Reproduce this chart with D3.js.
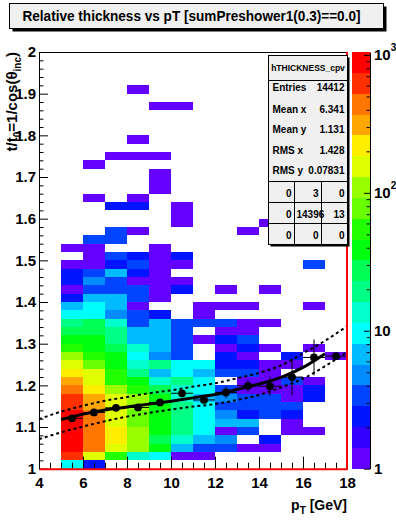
<!DOCTYPE html>
<html>
<head>
<meta charset="utf-8">
<script src="https://cdn.jsdelivr.net/npm/d3@7/dist/d3.min.js"></script>
<style>
  body { margin: 0; background: #fff; }
  svg text { font-family: "Liberation Sans", Arial, Helvetica, sans-serif; font-weight: bold; fill: #000; }
</style>
</head>
<body>
<svg id="chart" width="396" height="522"></svg>
<script>
const title = "Relative thickness vs pT [sumPreshower1(0.3)==0.0]";

// x bins (GeV), lower edges, width 1
const xBinLow = [4, 5, 6, 7, 8, 9, 10, 11, 12, 13, 14, 15, 16, 17];
const xBinWidth = 1;
// y bins: 50 bins of 0.02 starting at 1.00
const yBinMin = 1, yBinWidth = 0.02;

// entries per cell, counts[row][xbin], row 0 = 1.00-1.02
const counts = [
  [0,  10,   2,   0,   0,  0,  0,  0, 0, 0, 0, 0, 0, 0],
  [0, 620, 150,  55,  14, 10,  1,  1, 0, 0, 0, 0, 0, 0],
  [0, 830, 430, 165, 110, 40,  7,  3, 3, 1, 1, 0, 0, 0],
  [0, 900, 470, 215, 105, 29, 14,  7, 5, 0, 2, 0, 0, 0],
  [0, 920, 480, 230, 100, 36, 19, 10, 1, 3, 0, 1, 1, 0],
  [0, 880, 450, 175,  85, 38, 20, 11, 7, 6, 0, 1, 0, 0],
  [0, 800, 420, 170,  80, 40, 21, 10, 5, 2, 3, 2, 0, 0],
  [0, 700, 340, 160, 100, 35, 18,  9, 3, 3, 3, 3, 0, 0],
  [0, 580, 300, 150,  95, 34, 15,  7, 5, 4, 3, 1, 2, 0],
  [0, 450, 230, 110,  50, 26, 13,  9, 4, 1, 1, 1, 2, 0],
  [0, 320, 180,  58,  40, 12, 17, 10, 0, 1, 1, 3, 1, 0],
  [0, 240, 160,  52,  20,  7,  9,  6, 3, 3, 1, 0, 0, 0],
  [0, 140,  80,  37,  15, 18, 11,  9, 2, 2, 1, 1, 0, 0],
  [0, 100,  56,  34,  10,  5,  3,  0, 2, 1, 0, 2, 0, 1],
  [0,  60,  42,  28,  13,  7,  3,  0, 1, 2, 1, 0, 1, 0],
  [0,  44,  38,  21,   8,  6,  3,  1, 2, 3, 0, 0, 0, 0],
  [0,  31,  25,  18,   7,  6,  3,  0, 1, 1, 0, 0, 0, 0],
  [0,  20,  24,  15,   3,  7,  3,  3, 3, 1, 1, 0, 0, 0],
  [0,  11,   9,   5,   3,  2,  0,  1, 0, 0, 0, 0, 0, 0],
  [0,   7,  10,   6,   1,  0,  0,  1, 1, 1, 0, 0, 1, 0],
  [0,   2,   8,   7,   4,  1,  0,  0, 0, 0, 0, 0, 0, 0],
  [0,   1,   3,   3,   3,  1,  2,  0, 1, 0, 1, 0, 0, 0],
  [0,   2,   5,   4,   1,  1,  1,  0, 0, 0, 0, 0, 0, 0],
  [0,   2,   3,   6,   2,  1,  0,  0, 0, 0, 0, 0, 0, 0],
  [0,   1,   1,   2,   3,  1,  1,  0, 0, 0, 0, 0, 3, 0],
  [0,   0,   1,   3,   2,  1,  2,  0, 0, 0, 0, 0, 0, 0],
  [0,   1,   1,   0,   0,  1,  0,  0, 0, 0, 0, 0, 0, 0],
  [0,   0,   3,   3,   0,  0,  0,  0, 0, 0, 0, 0, 0, 0],
  [0,   0,   0,   3,   1,  0,  0,  0, 0, 1, 0, 0, 0, 0],
  [0,   0,   0,   0,   0,  0,  1,  0, 0, 0, 1, 0, 0, 0],
  [0,   0,   0,   0,   0,  0,  1,  0, 0, 0, 0, 0, 0, 0],
  [0,   0,   0,   2,   2,  0,  1,  0, 0, 0, 0, 0, 0, 0],
  [0,   0,   1,   0,   1,  0,  0,  0, 0, 0, 0, 0, 0, 0],
  [0,   0,   0,   0,   0,  1,  0,  0, 0, 0, 0, 0, 0, 0],
  [0,   0,   0,   0,   0,  1,  0,  0, 0, 0, 0, 0, 0, 0],
  [0,   0,   0,   0,   0,  1,  0,  0, 0, 0, 0, 0, 0, 0],
  [0,   0,   1,   0,   0,  0,  0,  0, 0, 0, 0, 0, 0, 0],
  [0,   0,   0,   1,   1,  1,  0,  0, 0, 0, 0, 0, 0, 0],
  [0,   0,   0,   0,   0,  0,  0,  0, 0, 0, 0, 0, 0, 0],
  [0,   0,   0,   0,   1,  0,  0,  0, 0, 0, 0, 0, 0, 0],
  [0,   0,   0,   0,   0,  0,  0,  0, 0, 0, 0, 0, 0, 0],
  [0,   0,   0,   0,   0,  0,  0,  0, 0, 0, 0, 0, 0, 0],
  [0,   0,   0,   0,   0,  0,  0,  0, 0, 0, 0, 0, 0, 0],
  [0,   0,   0,   0,   0,  1,  1,  0, 0, 0, 0, 0, 0, 0],
  [0,   0,   0,   0,   0,  0,  0,  0, 0, 0, 0, 0, 0, 0],
  [0,   0,   0,   0,   1,  0,  0,  0, 0, 0, 0, 0, 0, 0],
  [0,   0,   0,   0,   0,  0,  0,  0, 0, 0, 0, 0, 0, 0],
  [0,   0,   0,   0,   0,  0,  0,  0, 0, 0, 0, 0, 0, 0],
  [0,   0,   0,   0,   0,  0,  0,  0, 0, 0, 0, 0, 0, 0],
  [0,   0,   0,   0,   0,  0,  0,  0, 0, 0, 0, 0, 0, 0]
];

// profile points (mean y per pT bin)
const profX   = [5.5, 6.5, 7.5, 8.5, 9.5, 10.5, 11.5, 12.5, 13.5, 14.5, 15.5, 16.5, 17.5];
const profY   = [1.121, 1.135, 1.146, 1.147, 1.159, 1.181, 1.165, 1.183, 1.199, 1.198, 1.220, 1.267, 1.270];
const profErr = [0.002, 0.003, 0.003, 0.004, 0.005, 0.007, 0.007, 0.014, 0.014, 0.023, 0.044, 0.043, 0];

// fit curve and its band
const fitX = [5, 6, 7, 8, 9, 10, 11, 12, 13, 14, 15, 16, 17];
const fitY = [1.118, 1.131, 1.141, 1.148, 1.155, 1.162, 1.170, 1.178, 1.190, 1.203, 1.219, 1.243, 1.276];
const bandX = [4, 5, 6, 7, 8, 9, 10, 11, 12, 13, 14, 15, 16, 17, 18];
const bandUp = [1.119, 1.137, 1.151, 1.163, 1.172, 1.181, 1.188, 1.197, 1.205, 1.217, 1.230, 1.248, 1.277, 1.307, 1.342];
const bandLo = [1.071, 1.087, 1.101, 1.114, 1.125, 1.134, 1.142, 1.149, 1.155, 1.165, 1.177, 1.195, 1.216, 1.246, 1.280];

// stats box
const statName = "hTHICKNESS_cpv";
const statLabels = ["Entries", "Mean x", "Mean y", "RMS x", "RMS y"];
const statValues = ["14412", "6.341", "1.131", "1.428", "0.07831"];
const overflow = [["0", "3", "0"], ["0", "14396", "13"], ["0", "0", "0"]];

const xTicks = [4, 6, 8, 10, 12, 14, 16, 18];
const yTicks = [1, 1.1, 1.2, 1.3, 1.4, 1.5, 1.6, 1.7, 1.8, 1.9, 2];
const zTicks = [1, 10, 100, 1000];

const zMin = 1, zMax = 1050, nLevels = 20, nColors = 50;

const svg = d3.select("#chart");
const pLeft = 39, pRight = 347, pTop = 52, pBottom = 468.7;

const x = d3.scaleLinear().domain([4, 18]).range([pLeft, pRight]);
const y = d3.scaleLinear().domain([1, 2]).range([pBottom, pTop]);
const z = d3.scaleLog().domain([zMin, zMax]).range([pBottom, pTop]);
const lev = d3.scaleLinear().domain([Math.log10(zMin), Math.log10(zMax)]).range([0, nLevels]);

// ROOT "pretty" palette: 50 hues from violet to red, 20 contour levels
function levelColor(j) {
  const idx = Math.floor((j + 0.99) * nColors / nLevels);
  const hue = 280 - (idx + 1) * (280 / nColors);
  return d3.hsl(hue, 1, 0.5).formatHex();
}
function cellColor(v) {
  const j = Math.min(nLevels - 1, Math.floor(0.01 + lev(Math.log10(v))));
  return levelColor(j);
}

// cells
const cells = [];
counts.forEach((row, r) => row.forEach((v, k) => {
  if (v > 0) cells.push({ x0: xBinLow[k], y0: yBinMin + r * yBinWidth, v });
}));

svg.append("g")
  .attr("shape-rendering", "crispEdges")
  .selectAll("rect")
  .data(cells)
  .join("rect")
  .attr("x", d => x(d.x0))
  .attr("y", d => y(d.y0 + yBinWidth))
  .attr("width", d => x(d.x0 + xBinWidth) - x(d.x0))
  .attr("height", d => y(d.y0) - y(d.y0 + yBinWidth))
  .attr("fill", d => cellColor(d.v));

// fit band (dotted) and fit (solid)
const line = d3.line().x(d => x(d[0])).y(d => y(d[1])).curve(d3.curveMonotoneX);
[bandUp, bandLo].forEach(b => {
  svg.append("path")
    .datum(bandX.map((v, i) => [v, b[i]]))
    .attr("fill", "none")
    .attr("stroke", "#000")
    .attr("stroke-width", 2)
    .attr("stroke-dasharray", "3,3")
    .attr("d", line);
});
svg.append("path")
  .datum(fitX.map((v, i) => [v, fitY[i]]))
  .attr("fill", "none")
  .attr("stroke", "#000")
  .attr("stroke-width", 3)
  .attr("d", line);

// profile points with errors
const prof = profX.map((v, i) => ({ x: v, y: profY[i], e: profErr[i] }));
const pg = svg.append("g").attr("stroke", "#000").attr("stroke-width", 1);
pg.selectAll(".ex").data(prof).join("line")
  .attr("x1", d => x(d.x - 0.5)).attr("x2", d => x(d.x + 0.5))
  .attr("y1", d => y(d.y)).attr("y2", d => y(d.y));
pg.selectAll(".ey").data(prof.filter(d => d.e > 0)).join("line")
  .attr("x1", d => x(d.x)).attr("x2", d => x(d.x))
  .attr("y1", d => y(d.y - d.e)).attr("y2", d => y(d.y + d.e));
svg.append("g").selectAll("circle").data(prof).join("circle")
  .attr("cx", d => x(d.x)).attr("cy", d => y(d.y)).attr("r", 3.9)
  .attr("fill", "#000");

// axes
function styleAxis(g) {
  g.attr("font-size", 15)
   .attr("font-family", '"Liberation Sans", Arial, Helvetica, sans-serif')
   .attr("font-weight", "bold");
}

const yMinor = d3.range(0, 51).map(i => 1 + i * 0.02).filter((v, i) => i % 5 !== 0);
svg.append("g")
  .attr("transform", `translate(${pLeft},0)`)
  .call(d3.axisLeft(y).tickValues(yMinor).tickSizeInner(-4.5).tickSizeOuter(0).tickFormat(""))
  .call(g => g.select(".domain").remove());
svg.append("g")
  .attr("transform", `translate(${pLeft},0)`)
  .call(d3.axisLeft(y).tickValues(yTicks).tickSizeInner(-9).tickSizeOuter(0).tickPadding(3)
    .tickFormat(d => String(+d.toFixed(1))))
  .call(styleAxis);

// top frame
svg.append("line").attr("x1", pLeft).attr("x2", pRight).attr("y1", pTop + 0.5).attr("y2", pTop + 0.5)
  .attr("stroke", "#000");

const xMinor = d3.range(0, 29).map(i => 4 + i * 0.5).filter((v, i) => i % 4 !== 0);
svg.append("g")
  .attr("transform", `translate(0,${pBottom})`)
  .call(d3.axisBottom(x).tickValues(xMinor).tickSizeInner(-6).tickSizeOuter(0).tickFormat(""))
  .call(g => g.select(".domain").remove());
svg.append("g")
  .attr("transform", `translate(0,${pBottom})`)
  .call(d3.axisBottom(x).tickValues(xTicks).tickSizeInner(-12).tickSizeOuter(0).tickPadding(9))
  .call(styleAxis)
  .call(g => g.select(".domain").attr("stroke", "#f00").attr("stroke-width", 2));

// right frame edge (red)
svg.append("line").attr("x1", pRight).attr("x2", pRight).attr("y1", pTop).attr("y2", pBottom + 1)
  .attr("stroke", "#f00").attr("stroke-width", 2);

// axis titles
const yt = svg.append("text")
  .attr("transform", `translate(17,${pTop}) rotate(-90)`)
  .attr("text-anchor", "end")
  .attr("font-size", 15);
yt.append("tspan").text("t/t");
yt.append("tspan").attr("font-size", 10).attr("dy", 4).text("0");
yt.append("tspan").attr("dy", -4).text("=1/cos(\u03b8");
yt.append("tspan").attr("font-size", 10).attr("dy", 4).text("inc");
yt.append("tspan").attr("dy", -4).text(")");

const xt = svg.append("text")
  .attr("x", pRight).attr("y", 510)
  .attr("text-anchor", "end")
  .attr("font-size", 14);
xt.append("tspan").text("p");
xt.append("tspan").attr("font-size", 10).attr("dy", 4).text("T");
xt.append("tspan").attr("dy", -4).text(" [GeV]");

// colour bar
const barX0 = 352, barX1 = 370;
const dz = Math.log10(zMax / zMin) / nLevels;
svg.append("g").attr("shape-rendering", "crispEdges")
  .selectAll("rect")
  .data(d3.range(nLevels))
  .join("rect")
  .attr("x", barX0)
  .attr("width", barX1 - barX0)
  .attr("y", j => z(zMin * Math.pow(10, (j + 1) * dz)))
  .attr("height", j => z(zMin * Math.pow(10, j * dz)) - z(zMin * Math.pow(10, (j + 1) * dz)))
  .attr("fill", j => levelColor(j));

const zMinor = [];
[1, 10, 100].forEach(d => [2, 3, 4, 5, 6, 7, 8, 9].forEach(m => { if (d * m < zMax) zMinor.push(d * m); }));
svg.append("g")
  .attr("transform", `translate(${barX1},0)`)
  .call(d3.axisRight(z).tickValues(zMinor).tickSizeInner(-3.5).tickSizeOuter(0).tickFormat(""))
  .call(g => g.select(".domain").remove());
const za = svg.append("g")
  .attr("transform", `translate(${barX1},0)`)
  .call(d3.axisRight(z).tickValues(zTicks).tickSizeInner(-6).tickSizeOuter(0).tickPadding(4)
    .tickFormat(d => d < 100 ? String(d) : "10"))
  .call(styleAxis);
za.selectAll(".tick text").filter(d => d >= 100)
  .append("tspan").attr("font-size", 10).attr("dy", "-0.9em").text(d => Math.round(Math.log10(d)));

// stats box
const sb = { x: 268.5, y: 55.5, w: 79, h: 189 };
const st = svg.append("g");
st.append("rect").attr("x", sb.x + 2).attr("y", sb.y + 2).attr("width", sb.w).attr("height", sb.h).attr("fill", "#000");
st.append("rect").attr("x", sb.x).attr("y", sb.y).attr("width", sb.w).attr("height", sb.h)
  .attr("fill", "#f0f0f0").attr("stroke", "#000");
st.append("line").attr("x1", sb.x).attr("x2", sb.x + sb.w).attr("y1", 80.5).attr("y2", 80.5).attr("stroke", "#000");
st.append("text").attr("x", sb.x + sb.w / 2).attr("y", 71).attr("text-anchor", "middle")
  .attr("font-size", 8.5).text(statName);
const rowY = [91, 113, 133, 154, 174];
statLabels.forEach((s, i) => {
  st.append("text").attr("x", sb.x + 4).attr("y", rowY[i]).attr("font-size", 10).text(s);
  st.append("text").attr("x", sb.x + sb.w - 3).attr("y", rowY[i]).attr("text-anchor", "end")
    .attr("font-size", 10).text(statValues[i]);
});
const tabTop = 181.5, tabRow = 21;
const colEdges = [sb.x, 294.5, 321.5, sb.x + sb.w];
overflow.forEach((row, i) => {
  const y0 = tabTop + i * tabRow;
  st.append("line").attr("x1", sb.x).attr("x2", sb.x + sb.w).attr("y1", y0).attr("y2", y0).attr("stroke", "#000");
  row.forEach((s, k) => {
    const t = st.append("text").attr("y", y0 + 15).attr("font-size", 10).text(s);
    const w = t.node().getComputedTextLength();
    // right-aligned in its cell, unless too wide: then start just inside the left edge
    const xr = Math.max(colEdges[k + 1] - 3, colEdges[k] + 2 + w);
    t.attr("x", xr).attr("text-anchor", "end");
  });
});
[1, 2].forEach(k => st.append("line").attr("x1", colEdges[k]).attr("x2", colEdges[k])
  .attr("y1", tabTop).attr("y2", sb.y + sb.h).attr("stroke", "#000"));

// title box
const tb = { x: 9.5, y: 3.5, w: 374, h: 25 };
svg.append("rect").attr("x", tb.x + 3).attr("y", tb.y + 3).attr("width", tb.w).attr("height", tb.h).attr("fill", "#000");
svg.append("rect").attr("x", tb.x).attr("y", tb.y).attr("width", tb.w).attr("height", tb.h)
  .attr("fill", "#f0f0f0").attr("stroke", "#000");
svg.append("text").attr("x", 191.5).attr("y", 21).attr("text-anchor", "middle")
  .attr("font-size", 15)
  .attr("textLength", 338).attr("lengthAdjust", "spacingAndGlyphs")
  .text(title);
</script>
</body>
</html>
